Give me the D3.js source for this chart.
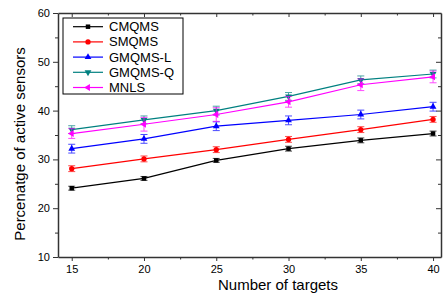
<!DOCTYPE html>
<html>
<head>
<meta charset="utf-8">
<script src="https://cdn.jsdelivr.net/npm/d3@7"></script>
<style>
  body { margin: 0; background: #fff; }
  text { font-family: Arial, "Liberation Sans", sans-serif; }
</style>
</head>
<body>
<div id="chart"></div>
<script>
var targets = [15, 20, 25, 30, 35, 40];
var seriesNames = ['CMQMS', 'SMQMS', 'GMQMS-L', 'GMQMS-Q', 'MNLS'];
var cmqms  = [24.1, 26.1, 29.8, 32.2, 33.9, 35.3];
var smqms  = [28.1, 30.1, 32.0, 34.1, 36.1, 38.2];
var gmqmsL = [32.2, 34.2, 36.8, 38.0, 39.2, 40.8];
var gmqmsQ = [36.1, 38.1, 40.0, 42.9, 46.3, 47.5];
var mnls   = [35.3, 37.2, 39.2, 41.8, 45.3, 46.9];
var cmqmsErr  = [0.4, 0.4, 0.4, 0.5, 0.5, 0.5];
var smqmsErr  = [0.6, 0.6, 0.6, 0.6, 0.6, 0.6];
var gmqmsLErr = [0.9, 0.9, 0.9, 0.9, 0.9, 0.9];
var gmqmsQErr = [0.8, 0.8, 0.9, 0.8, 0.8, 0.8];
var mnlsErr   = [1.0, 1.4, 1.4, 1.1, 1.2, 1.2];
var yTicks = [10, 20, 30, 40, 50, 60];
var xTicks = [15, 20, 25, 30, 35, 40];

var colors = ['#000000', '#ff0000', '#0000ff', '#008080', '#ff00ff'];
var symbols = [d3.symbolSquare, d3.symbolCircle, 'up', 'down', 'left'];
var allValues = [cmqms, smqms, gmqmsL, gmqmsQ, mnls];
var allErrs = [cmqmsErr, smqmsErr, gmqmsLErr, gmqmsQErr, mnlsErr];

var W = 445, H = 295;
var m = {left: 58, right: 4, top: 13, bottom: 38};

var svg = d3.select('#chart').append('svg').attr('width', W).attr('height', H);

var x = d3.scaleLinear().domain([14.05, 40.55]).range([m.left, W - m.right]);
var y = d3.scaleLinear().domain([10, 60]).range([H - m.bottom, m.top]);

// axes
var axisColor = '#333';
var bottom = svg.append('g').attr('transform', 'translate(0,' + y(10) + ')')
  .call(d3.axisBottom(x).tickValues(xTicks).tickSize(4).tickSizeOuter(0));
bottom.selectAll('text').attr('font-size', 11).attr('dy', '0.8em');
svg.append('g').attr('transform', 'translate(0,' + y(10) + ')')
  .call(d3.axisBottom(x).tickValues([17.5, 22.5, 27.5, 32.5, 37.5]).tickSize(2.5).tickFormat('').tickSizeOuter(0))
  .select('.domain').remove();

var left = svg.append('g').attr('transform', 'translate(' + m.left + ',0)')
  .call(d3.axisLeft(y).tickValues(yTicks).tickSize(5).tickSizeOuter(0));
left.selectAll('text').attr('font-size', 11);
svg.append('g').attr('transform', 'translate(' + m.left + ',0)')
  .call(d3.axisLeft(y).tickValues([15, 25, 35, 45, 55]).tickSize(3).tickFormat(''))
  .select('.domain').remove();

var top = svg.append('g').attr('transform', 'translate(0,' + y(60) + ')')
  .call(d3.axisBottom(x).tickValues(xTicks).tickSize(4).tickFormat('').tickSizeOuter(0));
svg.append('g').attr('transform', 'translate(0,' + y(60) + ')')
  .call(d3.axisBottom(x).tickValues([17.5, 22.5, 27.5, 32.5, 37.5]).tickSize(2.5).tickFormat(''))
  .select('.domain').remove();

var right = svg.append('g').attr('transform', 'translate(' + (W - m.right) + ',0)')
  .call(d3.axisLeft(y).tickValues(yTicks).tickSize(5).tickFormat('').tickSizeOuter(0));
svg.append('g').attr('transform', 'translate(' + (W - m.right) + ',0)')
  .call(d3.axisLeft(y).tickValues([15, 25, 35, 45, 55]).tickSize(3).tickFormat(''))
  .select('.domain').remove();

svg.selectAll('.domain').attr('stroke', axisColor).attr('stroke-width', 1.5);
svg.selectAll('.tick line').attr('stroke', axisColor).attr('stroke-width', 1);
svg.selectAll('.tick text').attr('fill', '#000');

// axis titles
svg.append('text').attr('x', 278).attr('y', 290)
  .attr('text-anchor', 'middle').attr('font-size', 15).text('Number of targets');
svg.append('text').attr('transform', 'translate(25,144) rotate(-90)')
  .attr('text-anchor', 'middle').attr('font-size', 15).text('Percenatge of active sensors');

function marker(sel, type, color) {
  if (type === d3.symbolSquare || type === d3.symbolCircle) {
    sel.append('path').attr('d', d3.symbol().type(type).size(type === d3.symbolSquare ? 20 : 22)())
      .attr('fill', color);
  } else {
    var rot = {up: 0, down: 180, left: -90}[type];
    sel.append('path').attr('d', d3.symbol().type(d3.symbolTriangle).size(20)())
      .attr('transform', 'rotate(' + rot + ')').attr('fill', color);
  }
}

var line = d3.line().x(function(d) { return x(d[0]); }).y(function(d) { return y(d[1]); });

allValues.forEach(function(vals, s) {
  var pts = targets.map(function(t, i) { return [t, vals[i], allErrs[s][i]]; });
  var g = svg.append('g');
  g.append('path').datum(pts).attr('d', line).attr('fill', 'none')
    .attr('stroke', colors[s]).attr('stroke-width', 1.2);
  var eb = g.selectAll('.eb').data(pts).enter().append('g').attr('stroke', colors[s])
    .attr('stroke-width', 1).attr('opacity', 0.7);
  eb.append('line').attr('x1', function(d) { return x(d[0]); }).attr('x2', function(d) { return x(d[0]); })
    .attr('y1', function(d) { return y(d[1] - d[2]); }).attr('y2', function(d) { return y(d[1] + d[2]); });
  eb.append('line').attr('x1', function(d) { return x(d[0]) - 3.5; }).attr('x2', function(d) { return x(d[0]) + 3.5; })
    .attr('y1', function(d) { return y(d[1] - d[2]); }).attr('y2', function(d) { return y(d[1] - d[2]); });
  eb.append('line').attr('x1', function(d) { return x(d[0]) - 3.5; }).attr('x2', function(d) { return x(d[0]) + 3.5; })
    .attr('y1', function(d) { return y(d[1] + d[2]); }).attr('y2', function(d) { return y(d[1] + d[2]); });
  g.selectAll('.mk').data(pts).enter().append('g')
    .attr('transform', function(d) { return 'translate(' + x(d[0]) + ',' + y(d[1]) + ')'; })
    .each(function() { marker(d3.select(this), symbols[s], colors[s]); });
});

// legend
var lg = svg.append('g').attr('transform', 'translate(63,18)');
lg.append('rect').attr('width', 120).attr('height', 76).attr('fill', '#fff')
  .attr('stroke', '#000').attr('stroke-width', 1);
seriesNames.forEach(function(name, i) {
  var yy = 8.7 + i * 15.2;
  var row = lg.append('g').attr('transform', 'translate(0,' + yy + ')');
  row.append('line').attr('x1', 10).attr('x2', 40).attr('stroke', colors[i]).attr('stroke-width', 1.2);
  var mk = row.append('g').attr('transform', 'translate(25,0)');
  marker(mk, symbols[i], colors[i]);
  row.append('text').attr('x', 46).attr('dy', '0.35em').attr('font-size', 13).text(name);
});
</script>
</body>
</html>
